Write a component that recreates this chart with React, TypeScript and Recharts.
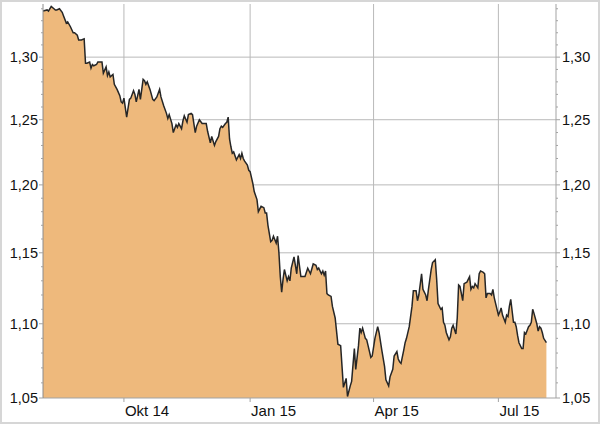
import React from "react";
import {
  Area,
  AreaChart,
  CartesianGrid,
  XAxis,
  YAxis,
} from "recharts";

// EUR/USD, Aug 2014 - Aug 2015
const dates = [
  "2014-08-03", "2014-08-06", "2014-08-07", "2014-08-09", "2014-08-11", "2014-08-12", "2014-08-13", "2014-08-15", "2014-08-17", "2014-08-18",
  "2014-08-20", "2014-08-21", "2014-08-23", "2014-08-25", "2014-08-26", "2014-08-28", "2014-08-29", "2014-08-31", "2014-09-02", "2014-09-03",
  "2014-09-04", "2014-09-06", "2014-09-07", "2014-09-08", "2014-09-09", "2014-09-11", "2014-09-12", "2014-09-14", "2014-09-15", "2014-09-16",
  "2014-09-18", "2014-09-19", "2014-09-20", "2014-09-21", "2014-09-23", "2014-09-24", "2014-09-26", "2014-09-28", "2014-09-29", "2014-09-30",
  "2014-10-01", "2014-10-03", "2014-10-05", "2014-10-06", "2014-10-08", "2014-10-09", "2014-10-10", "2014-10-12", "2014-10-13", "2014-10-15",
  "2014-10-16", "2014-10-17", "2014-10-18", "2014-10-20", "2014-10-22", "2014-10-23", "2014-10-25", "2014-10-27", "2014-10-28", "2014-10-30",
  "2014-11-01", "2014-11-02", "2014-11-03", "2014-11-05", "2014-11-06", "2014-11-08", "2014-11-09", "2014-11-10", "2014-11-12", "2014-11-13",
  "2014-11-14", "2014-11-16", "2014-11-17", "2014-11-19", "2014-11-20", "2014-11-22", "2014-11-23", "2014-11-25", "2014-11-27", "2014-11-28",
  "2014-11-30", "2014-12-01", "2014-12-03", "2014-12-04", "2014-12-06", "2014-12-07", "2014-12-09", "2014-12-10", "2014-12-11", "2014-12-12",
  "2014-12-14", "2014-12-15", "2014-12-16", "2014-12-17", "2014-12-18", "2014-12-19", "2014-12-20", "2014-12-22", "2014-12-24", "2014-12-25",
  "2014-12-26", "2014-12-27", "2014-12-28", "2014-12-30", "2014-12-31", "2015-01-01", "2015-01-03", "2015-01-04", "2015-01-06", "2015-01-07",
  "2015-01-09", "2015-01-11", "2015-01-12", "2015-01-13", "2015-01-14", "2015-01-16", "2015-01-17", "2015-01-18", "2015-01-20", "2015-01-21",
  "2015-01-22", "2015-01-23", "2015-01-24", "2015-01-25", "2015-01-26", "2015-01-28", "2015-01-29", "2015-01-30", "2015-01-31", "2015-02-02",
  "2015-02-04", "2015-02-05", "2015-02-07", "2015-02-09", "2015-02-10", "2015-02-12", "2015-02-14", "2015-02-16", "2015-02-18", "2015-02-19",
  "2015-02-20", "2015-02-22", "2015-02-23", "2015-02-24", "2015-02-25", "2015-02-26", "2015-02-27", "2015-03-01", "2015-03-02", "2015-03-04",
  "2015-03-06", "2015-03-08", "2015-03-09", "2015-03-10", "2015-03-12", "2015-03-13", "2015-03-15", "2015-03-16", "2015-03-18", "2015-03-19",
  "2015-03-21", "2015-03-22", "2015-03-23", "2015-03-24", "2015-03-26", "2015-03-27", "2015-03-28", "2015-03-30", "2015-03-31", "2015-04-02",
  "2015-04-04", "2015-04-05", "2015-04-07", "2015-04-09", "2015-04-10", "2015-04-12", "2015-04-13", "2015-04-15", "2015-04-16", "2015-04-18",
  "2015-04-19", "2015-04-20", "2015-04-21", "2015-04-23", "2015-04-24", "2015-04-25", "2015-04-27", "2015-04-29", "2015-04-30", "2015-05-02",
  "2015-05-03", "2015-05-04", "2015-05-06", "2015-05-07", "2015-05-09", "2015-05-10", "2015-05-11", "2015-05-13", "2015-05-14", "2015-05-16",
  "2015-05-17", "2015-05-18", "2015-05-20", "2015-05-21", "2015-05-22", "2015-05-23", "2015-05-24", "2015-05-26", "2015-05-27", "2015-05-28",
  "2015-05-29", "2015-05-31", "2015-06-01", "2015-06-02", "2015-06-03", "2015-06-05", "2015-06-06", "2015-06-08", "2015-06-09", "2015-06-10",
  "2015-06-11", "2015-06-12", "2015-06-13", "2015-06-14", "2015-06-16", "2015-06-17", "2015-06-18", "2015-06-20", "2015-06-21", "2015-06-22",
  "2015-06-23", "2015-06-25", "2015-06-26", "2015-06-27", "2015-06-28", "2015-06-29", "2015-07-01", "2015-07-02", "2015-07-03", "2015-07-04",
  "2015-07-06", "2015-07-07", "2015-07-08", "2015-07-09", "2015-07-10", "2015-07-12", "2015-07-13", "2015-07-14", "2015-07-15", "2015-07-16",
  "2015-07-18", "2015-07-19", "2015-07-20", "2015-07-21", "2015-07-23", "2015-07-24", "2015-07-25", "2015-07-26", "2015-07-27", "2015-07-29",
  "2015-07-30", "2015-07-31", "2015-08-01", "2015-08-02", "2015-08-03", "2015-08-05",
];

const rates = [
  1.338, 1.339, 1.338, 1.342, 1.340, 1.339, 1.339, 1.340, 1.337, 1.334,
  1.328, 1.329, 1.325, 1.320, 1.320, 1.318, 1.314, 1.314, 1.315, 1.295,
  1.295, 1.296, 1.291, 1.294, 1.293, 1.294, 1.296, 1.296, 1.296, 1.287,
  1.292, 1.285, 1.288, 1.284, 1.286, 1.278, 1.274, 1.269, 1.264, 1.263,
  1.267, 1.252, 1.266, 1.267, 1.273, 1.270, 1.264, 1.274, 1.266, 1.282,
  1.281, 1.278, 1.280, 1.274, 1.266, 1.265, 1.268, 1.274, 1.268, 1.261,
  1.255, 1.251, 1.254, 1.247, 1.240, 1.246, 1.244, 1.247, 1.243, 1.249,
  1.253, 1.248, 1.254, 1.255, 1.254, 1.240, 1.245, 1.250, 1.247, 1.247,
  1.247, 1.241, 1.232, 1.237, 1.230, 1.233, 1.237, 1.243, 1.245, 1.244,
  1.247, 1.248, 1.252, 1.235, 1.229, 1.224, 1.225, 1.219, 1.223, 1.220,
  1.224, 1.220, 1.218, 1.215, 1.211, 1.210, 1.201, 1.195, 1.189, 1.180,
  1.184, 1.183, 1.179, 1.179, 1.170, 1.158, 1.159, 1.162, 1.157, 1.162,
  1.150, 1.133, 1.122, 1.131, 1.138, 1.130, 1.133, 1.130, 1.139, 1.147,
  1.135, 1.148, 1.133, 1.133, 1.133, 1.139, 1.135, 1.142, 1.141, 1.138,
  1.139, 1.135, 1.137, 1.134, 1.137, 1.121, 1.120, 1.119, 1.112, 1.104,
  1.086, 1.085, 1.071, 1.057, 1.063, 1.051, 1.058, 1.061, 1.083, 1.069,
  1.085, 1.097, 1.094, 1.097, 1.090, 1.089, 1.085, 1.077, 1.078, 1.090,
  1.098, 1.094, 1.082, 1.071, 1.062, 1.058, 1.064, 1.069, 1.078, 1.081,
  1.076, 1.074, 1.073, 1.082, 1.087, 1.090, 1.098, 1.112, 1.123, 1.123,
  1.116, 1.120, 1.135, 1.124, 1.120, 1.116, 1.124, 1.138, 1.143, 1.145,
  1.131, 1.114, 1.110, 1.111, 1.101, 1.099, 1.094, 1.089, 1.091, 1.097,
  1.099, 1.093, 1.104, 1.127, 1.126, 1.116, 1.128, 1.129, 1.131, 1.133,
  1.124, 1.126, 1.125, 1.128, 1.125, 1.135, 1.137, 1.136, 1.135, 1.118,
  1.121, 1.121, 1.120, 1.124, 1.118, 1.114, 1.106, 1.108, 1.111, 1.106,
  1.101, 1.106, 1.105, 1.112, 1.117, 1.101, 1.101, 1.098, 1.092, 1.087,
  1.083, 1.083, 1.094, 1.093, 1.098, 1.099, 1.101, 1.110, 1.107, 1.100,
  1.095, 1.098, 1.097, 1.094, 1.090, 1.087,
];

const xTickDates = ["2014-10-01", "2015-01-01", "2015-04-01", "2015-07-01"];
const xTickLabels = ["Okt 14", "Jan 15", "Apr 15", "Jul 15"];
const xDomainDates = ["2014-08-03", "2015-08-12"];

const yMajorTicks = [1.05, 1.1, 1.15, 1.2, 1.25, 1.3];
const yMinorTicks = [
  1.06, 1.07, 1.08, 1.09, 1.11, 1.12, 1.13, 1.14, 1.16, 1.17, 1.18, 1.19,
  1.21, 1.22, 1.23, 1.24, 1.26, 1.27, 1.28, 1.29, 1.31, 1.32, 1.33, 1.34,
];
const yDomain = [1.05, 1.344];

const FONT = "'Liberation Sans', Arial, sans-serif";
const TEXT = "#111";
const GRID = "#b9b9b9";
const FRAME = "#a3a3a3";

const data = dates.map((d, i) => ({ t: Date.parse(d), v: rates[i] }));
const xTicks = xTickDates.map((d) => Date.parse(d));
const xDomain = xDomainDates.map((d) => Date.parse(d));
const yTicks = [...yMajorTicks, ...yMinorTicks].sort((a, b) => a - b);

const fmt = (v: number) => v.toFixed(2).replace(".", ",");

// tickSize 4 + tickMargin 2 => axis line sits 6px from the tick anchor
const YTick = (props: any) => {
  const { x, y, payload, orientation } = props;
  const major = yMajorTicks.includes(payload.value);
  const len = major ? 4 : 2;
  const left = orientation !== "right";
  const axisX = left ? x + 6 : x - 6;
  return (
    <g>
      <line
        x1={axisX}
        x2={left ? axisX - len : axisX + len}
        y1={y}
        y2={y}
        stroke={FRAME}
        strokeWidth={1}
      />
      {major && (
        <text
          x={left ? axisX - 5 : axisX + 6}
          y={y}
          dy="0.36em"
          textAnchor={left ? "end" : "start"}
          fontSize={14.5}
          fontFamily={FONT}
          fill={TEXT}
        >
          {fmt(payload.value)}
        </text>
      )}
    </g>
  );
};

const XTick = (props: any) => {
  const { x, y, index } = props;
  return (
    <text
      x={x + 1}
      y={y + 12}
      textAnchor="start"
      fontSize={15}
      fontFamily={FONT}
      fill={TEXT}
    >
      {xTickLabels[index]}
    </text>
  );
};

export default function App() {
  return (
    <div
      style={{
        position: "absolute",
        left: 0,
        top: 0,
        width: 600,
        height: 424,
        boxSizing: "border-box",
        border: "2px solid #d6d6d6",
        background: "#fff",
      }}
    >
      <AreaChart
        width={596}
        height={420}
        data={data}
        margin={{ top: 2, right: 0, bottom: 0, left: 0 }}
      >
        <CartesianGrid
          stroke={GRID}
          horizontalValues={yMajorTicks.slice(1)}
          verticalValues={xTicks}
        />
        <XAxis
          dataKey="t"
          type="number"
          scale="time"
          domain={xDomain}
          allowDataOverflow
          ticks={xTicks}
          interval={0}
          height={24}
          tickSize={4}
          tickMargin={2}
          tickLine={{ stroke: FRAME }}
          axisLine={{ stroke: FRAME }}
          tick={<XTick />}
        />
        <XAxis
          xAxisId="top"
          orientation="top"
          dataKey="t"
          type="number"
          domain={xDomain}
          allowDataOverflow
          height={0}
          tick={false}
          tickLine={false}
          axisLine={{ stroke: FRAME }}
        />
        <YAxis
          type="number"
          scale="log"
          domain={yDomain}
          allowDataOverflow
          ticks={yTicks}
          interval={0}
          width={41}
          tickSize={4}
          tickMargin={2}
          tickLine={false}
          axisLine={{ stroke: "#8c8c8c" }}
          tick={<YTick orientation="left" />}
        />
        <YAxis
          yAxisId="right"
          orientation="right"
          type="number"
          scale="log"
          domain={yDomain}
          allowDataOverflow
          ticks={yTicks}
          interval={0}
          width={42}
          tickSize={4}
          tickMargin={2}
          tickLine={false}
          axisLine={{ stroke: FRAME }}
          tick={<YTick orientation="right" />}
        />
        <Area
          dataKey="v"
          type="linear"
          baseValue={1.05}
          stroke="#262626"
          strokeWidth={1.5}
          fill="#EEB97C"
          fillOpacity={1}
          dot={false}
          activeDot={false}
          isAnimationActive={false}
        />
      </AreaChart>
    </div>
  );
}
